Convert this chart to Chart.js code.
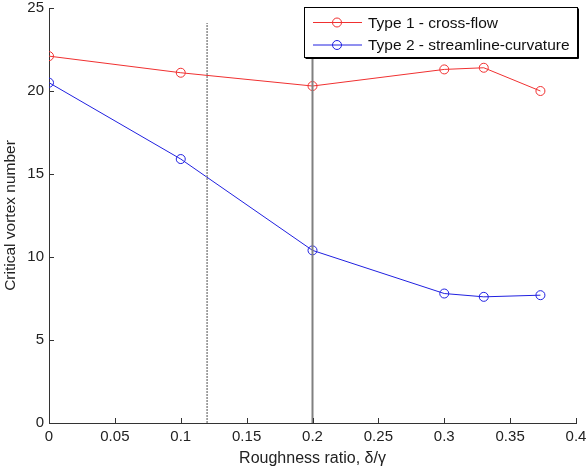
<!DOCTYPE html>
<html>
<head>
<meta charset="utf-8">
<script src="https://cdn.jsdelivr.net/npm/chart.js@4"></script>
<style>
  html, body { margin: 0; padding: 0; background: #fff; }
  #wrap { width: 587px; height: 470px; }
</style>
</head>
<body>
<div id="wrap"><canvas id="c"></canvas></div>
<script>
// roughness ratio (x) for each measured point
const ratios = [0, 0.1, 0.2, 0.3, 0.33, 0.373];
const type1 = [22.1, 21.1, 20.3, 21.3, 21.4, 20.0];
const type2 = [20.5, 15.9, 10.4, 7.8, 7.6, 7.7];
const seriesNames = ['Type 1 - cross-flow', 'Type 2 - streamline-curvature'];
// vertical reference lines: x position and top
const refX = [0.12, 0.2];
const refTop = [24.1, 25];

const toPts = (xs, ys) => xs.map((x, i) => ({ x: x, y: ys[i] }));

const RED = '#f03030';
const BLUE = '#2020e0';
const FONT = '"Liberation Sans", Arial, sans-serif';

// inward tick marks + legend box, matlab style
const matlabBits = {
    id: 'matlabBits',
    afterDatasetsDraw(chart) {
        const { ctx, chartArea } = chart;
        const xs = chart.scales.x, ys = chart.scales.y;
        ctx.save();
        ctx.strokeStyle = '#333';
        ctx.lineWidth = 1;
        ctx.beginPath();
        xs.ticks.forEach(t => {
            const px = Math.round(xs.getPixelForValue(t.value)) + 0.5;
            ctx.moveTo(px, chartArea.bottom);
            ctx.lineTo(px, chartArea.bottom - 5);
        });
        ys.ticks.forEach(t => {
            const py = Math.round(ys.getPixelForValue(t.value)) + 0.5;
            ctx.moveTo(chartArea.left, py);
            ctx.lineTo(chartArea.left + 5, py);
        });
        ctx.stroke();

        // legend
        const bx = 304.5, by = 7.5, bw = 273, bh = 50;
        ctx.fillStyle = '#fff';
        ctx.fillRect(bx, by, bw, bh);
        ctx.strokeStyle = '#000';
        ctx.strokeRect(bx, by, bw, bh);
        ctx.beginPath();
        ctx.moveTo(bx + bw + 1, by + 1);
        ctx.lineTo(bx + bw + 1, by + bh + 1);
        ctx.lineTo(bx + 1, by + bh + 1);
        ctx.stroke();
        const cols = [RED, BLUE];
        ctx.font = '15.5px ' + FONT;
        ctx.textBaseline = 'middle';
        seriesNames.forEach((name, i) => {
            const y = 22.5 + i * 22.5;
            ctx.strokeStyle = cols[i];
            ctx.beginPath();
            ctx.moveTo(313, y);
            ctx.lineTo(362, y);
            ctx.stroke();
            ctx.beginPath();
            ctx.arc(337, y, 4.5, 0, Math.PI * 2);
            ctx.stroke();
            ctx.fillStyle = '#111';
            ctx.fillText(name, 368, y + 1);
        });
        ctx.restore();
    }
};

new Chart(document.getElementById('c'), {
    type: 'scatter',
    data: {
        datasets: [
            {
                label: 'ref1',
                data: [{ x: refX[0], y: 0 }, { x: refX[0], y: refTop[0] }],
                showLine: true,
                borderColor: '#8a8a8a',
                borderWidth: 1.5,
                borderDash: [2, 1],
                pointRadius: 0
            },
            {
                label: 'ref2',
                data: [{ x: refX[1], y: 0 }, { x: refX[1], y: refTop[1] }],
                showLine: true,
                borderColor: '#808080',
                borderWidth: 2,
                pointRadius: 0
            },
            {
                label: seriesNames[0],
                data: toPts(ratios, type1),
                showLine: true,
                borderColor: RED,
                borderWidth: 1,
                pointRadius: 4.5,
                pointBorderWidth: 1,
                pointBackgroundColor: 'rgba(0,0,0,0)',
                pointBorderColor: RED
            },
            {
                label: seriesNames[1],
                data: toPts(ratios, type2),
                showLine: true,
                borderColor: BLUE,
                borderWidth: 1,
                pointRadius: 4.5,
                pointBorderWidth: 1,
                pointBackgroundColor: 'rgba(0,0,0,0)',
                pointBorderColor: BLUE
            }
        ]
    },
    options: {
        responsive: true,
        maintainAspectRatio: false,
        animation: false,
        layout: { padding: { top: 8, right: 11, left: 0, bottom: 0 } },
        plugins: {
            legend: { display: false },
            tooltip: { enabled: false }
        },
        scales: {
            x: {
                type: 'linear',
                min: 0,
                max: 0.4,
                afterFit(s) { s.height = 47; s.paddingRight = 0; s.paddingLeft = 0; },
                grid: { display: false, drawTicks: false },
                border: { display: true, color: '#333', width: 1 },
                ticks: {
                    stepSize: 0.05,
                    padding: 5,
                    color: '#222',
                    font: { family: FONT, size: 15 },
                    callback: v => Number(v.toFixed(2)).toString()
                },
                title: {
                    display: true,
                    text: 'Roughness ratio, δ/γ',
                    color: '#222',
                    padding: { top: 0, bottom: 2 },
                    font: { family: FONT, size: 16 }
                }
            },
            y: {
                min: 0,
                max: 25,
                afterFit(s) { s.width = 49; s.paddingTop = 0; s.paddingBottom = 0; },
                grid: { display: false, drawTicks: false },
                border: { display: true, color: '#333', width: 1 },
                ticks: {
                    stepSize: 5,
                    padding: 5,
                    color: '#222',
                    font: { family: FONT, size: 15 }
                },
                title: {
                    display: true,
                    text: 'Critical vortex number',
                    color: '#222',
                    padding: { top: 1, bottom: 0 },
                    font: { family: FONT, size: 15.5 }
                }
            }
        }
    },
    plugins: [matlabBits]
});
</script>
</body>
</html>
